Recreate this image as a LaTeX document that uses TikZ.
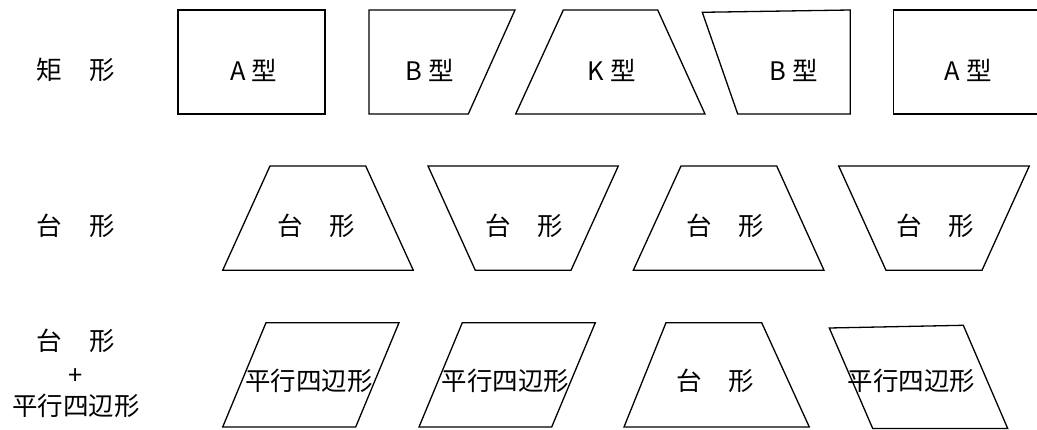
\documentclass[tikz,border=0pt]{standalone}
\usepackage{fontspec}
\setmainfont{Noto Sans CJK JP}
\tikzset{
  shp/.style={draw=black, line width=1.3pt, line join=miter},
  lbl/.style={inner sep=0pt, font=\fontsize{25.5}{30}\selectfont, text=black},
}
\newcommand{\gapA}{\hspace{6pt}}
\newcommand{\gapB}{\hspace{27pt}}
\begin{document}
\begin{tikzpicture}[x=1pt,y=-1pt]
\useasboundingbox (0,0) rectangle (1037,430);
\clip (0,0) rectangle (1037,430);
% row labels
\node[lbl] (r1) at (75.7,69.5) {矩\gapB 形};
\node[lbl] (r2) at (75.7,226) {台\gapB 形};
\node[lbl] (r3a) at (75.7,341) {台\gapB 形};
\node[lbl] (r3b) at (75.7,377) {+};
\node[lbl] (r3c) at (76,406) {平行四辺形};
% row 1
\draw[shp] (178,10) rectangle (325,114);
\node[lbl] (t1) at (253.5,70) {A\gapA 型};
\draw[shp] (369,10) -- (515,10) -- (468.3,114) -- (369,114) -- cycle;
\node[lbl] (t2) at (430,70) {B\gapA 型};
\draw[shp] (563.3,10) -- (657.7,10) -- (705,114) -- (515.7,114) -- cycle;
\node[lbl] (t3) at (611.7,70) {K\gapA 型};
\draw[shp] (702.3,12.3) -- (850.3,10) -- (850.3,114) -- (737.7,114) -- cycle;
\node[lbl] (t4) at (794,70) {B\gapA 型};
\draw[shp] (893.3,10) rectangle (1045,114);
\node[lbl] (t5) at (968,70) {A\gapA 型};
% row 2
\draw[shp] (270,166) -- (365.7,166) -- (413.3,270.3) -- (222.7,270.3) -- cycle;
\node[lbl] (m1) at (316,226) {台\gapB 形};
\draw[shp] (428,166) -- (618.3,166) -- (571,270.3) -- (475.3,270.3) -- cycle;
\node[lbl] (m2) at (524.4,226) {台\gapB 形};
\draw[shp] (681,166) -- (776.7,166) -- (824,270.3) -- (633.3,270.3) -- cycle;
\node[lbl] (m3) at (725.5,226) {台\gapB 形};
\draw[shp] (838.7,166) -- (1029.3,166) -- (982,270.3) -- (886,270.3) -- cycle;
\node[lbl] (m4) at (935,226) {台\gapB 形};
% row 3
\draw[shp] (266,322.7) -- (399,322.7) -- (355.7,427) -- (222.7,427) -- cycle;
\node[lbl] (b1) at (309,380.5) {平行四辺形};
\draw[shp] (462.3,322.7) -- (595.3,322.7) -- (551.7,427) -- (419,427) -- cycle;
\node[lbl] (b2) at (505.3,380.5) {平行四辺形};
\draw[shp] (666,322.7) -- (761.7,322.7) -- (809.3,427) -- (624,427) -- cycle;
\node[lbl] (b3) at (715,380.5) {台\gapB 形};
\draw[shp] (829.3,328) -- (963.3,325.3) -- (1007.7,428.5) -- (872.7,428.5) -- cycle;
\node[lbl] (b4) at (911.7,381) {平行四辺形};
\end{tikzpicture}
\end{document}
